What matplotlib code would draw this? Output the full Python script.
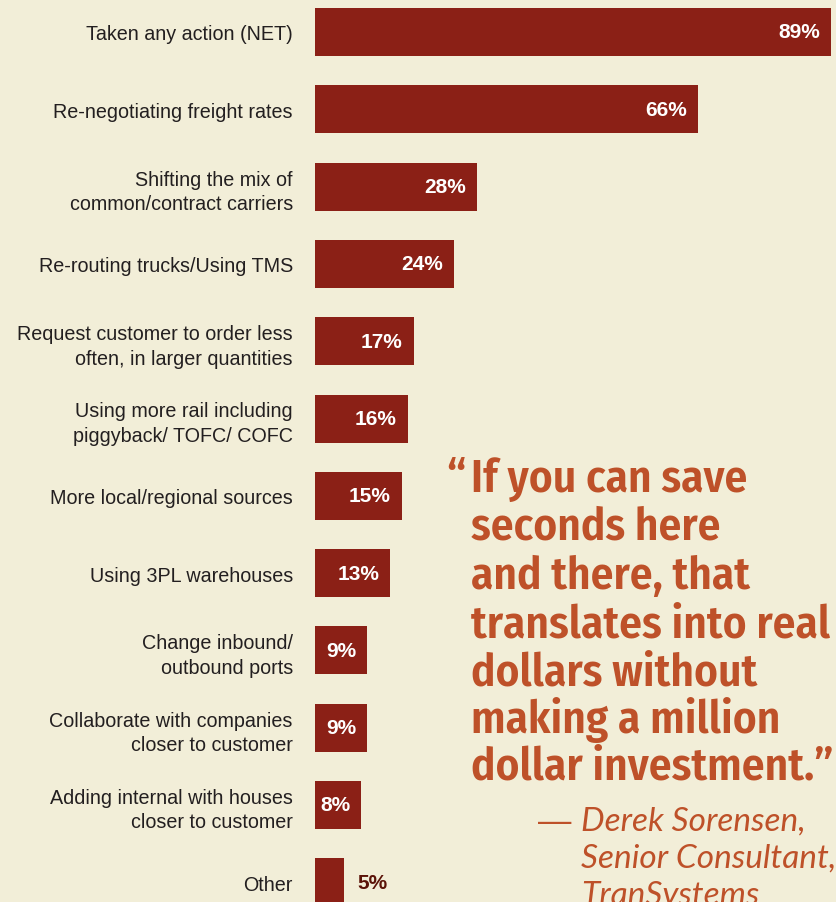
import matplotlib
matplotlib.use("Agg")
import matplotlib.pyplot as plt

categories = [
    "Taken any action (NET)",
    "Re-negotiating freight rates",
    "Shifting the mix of\ncommon/contract carriers",
    "Re-routing trucks/Using TMS",
    "Request customer to order less\noften, in larger quantities",
    "Using more rail including\npiggyback/ TOFC/ COFC",
    "More local/regional sources",
    "Using 3PL warehouses",
    "Change inbound/\noutbound ports",
    "Collaborate with companies\ncloser to customer",
    "Adding internal with houses\ncloser to customer",
    "Other",
]
values = [89, 66, 28, 24, 17, 16, 15, 13, 9, 9, 8, 5]

quote_lines = [
    "If you can save",
    "seconds here",
    "and there, that",
    "translates into real",
    "dollars without",
    "making a million",
    "dollar investment.\u201d",
]
attribution = ["Derek Sorensen,", "Senior Consultant,", "TranSystems"]

BG = "#F2EED8"
BAR = "#8B2016"
QUOTE = "#BE5129"
LABEL = "#231F20"

W, H = 836, 903
fig = plt.figure(figsize=(W / 100, H / 100), dpi=100, facecolor=BG)
x0 = 315
ax = fig.add_axes([x0 / W, 0, (W - x0) / W, 1])
ax.set_facecolor(BG)

px_per_unit = 5.8
step = 77.3
first = 33
ax.set_xlim(0, (W - x0) / px_per_unit)
ax.set_ylim((H - first) / step, -first / step)

ys = list(range(len(values)))
ax.barh(ys, values, height=48 / step, color=BAR, edgecolor="none")

for y, v in zip(ys, values):
    if v >= 8:
        ax.annotate(f"{v}%", (v, y), xytext=(-8, 0), textcoords="offset points",
                    ha="right", va="center", color="white", fontsize=15,
                    fontweight="bold", family="Liberation Sans")
    else:
        ax.annotate(f"{v}%", (v, y), xytext=(10, 0), textcoords="offset points",
                    ha="left", va="center", color="#5B1308", fontsize=15,
                    fontweight="bold", family="Liberation Sans")

ax.set_yticks(ys)
ax.set_yticklabels(categories, fontsize=14.2, color=LABEL, family="Liberation Sans",
                   linespacing=1.36)
ax.tick_params(axis="y", length=0, pad=16)
ax.tick_params(axis="x", bottom=False, labelbottom=False)
for s in ax.spines.values():
    s.set_visible(False)

# pull quote
qfont = dict(family=["Fira Sans Condensed", "Roboto Condensed", "DejaVu Sans"],
             fontweight=600, fontsize=32.6, color=QUOTE)
baselines = [492, 540, 589, 638, 685, 733, 780]
fig.text(446 / W, 1 - baselines[0] / H, "\u201c", ha="left", va="baseline", **qfont)
for line, b in zip(quote_lines, baselines):
    fig.text(471 / W, 1 - b / H, line, ha="left", va="baseline", **qfont)

afont = dict(family=["Lato", "DejaVu Sans"], style="italic", fontweight="normal",
             fontsize=24, color=QUOTE)
fig.text(538 / W, 1 - 831 / H, "\u2014", ha="left", va="baseline",
         family="Liberation Sans", fontsize=24, color=QUOTE)
for i, line in enumerate(attribution):
    fig.text(581 / W, 1 - (831 + i * 37) / H, line, ha="left", va="baseline", **afont)

fig.savefig("out.png", dpi=100, facecolor=BG)
